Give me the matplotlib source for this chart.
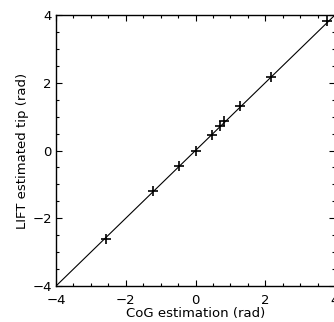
import matplotlib
matplotlib.use('Agg')
import matplotlib.pyplot as plt
import numpy as np

# CoG vs LIFT tip estimates (rad)
cog_est = [-2.56, -1.21, -0.46, 0.0, 0.47, 0.70, 0.81, 1.29, 2.16, 3.76]
lift_est = [-2.62, -1.21, -0.46, 0.0, 0.47, 0.71, 0.87, 1.32, 2.18, 3.81]
fit_x = [-4.0, 4.0]
fit_y = [-4.0, 4.0]

plt.rcParams['font.family'] = ['DejaVu Sans']
plt.rcParams['font.size'] = 9.5

fig = plt.figure(figsize=(3.34, 3.22), dpi=100)
ax = fig.add_axes([56/334., 36/322., 279/334., 271/322.])

ax.plot(fit_x, fit_y, color='k', lw=0.8)
ax.plot(cog_est, lift_est, ls='None', marker='+', color='k', ms=6.5, mew=1.2)

ax.set_xlim(-4, 4)
ax.set_ylim(-4, 4)
ax.set_xticks([-4, -2, 0, 2, 4])
ax.set_yticks([-4, -2, 0, 2, 4])
ax.set_xticks(np.arange(-4, 4.01, 0.5), minor=True)
ax.set_yticks(np.arange(-4, 4.01, 0.5), minor=True)
ax.tick_params(which='both', direction='in', top=True, right=True, width=0.8)
ax.tick_params(axis='x', which='major', length=4, pad=6)
ax.tick_params(axis='y', which='major', length=4, pad=3)
ax.tick_params(which='minor', length=2)
for s in ax.spines.values():
    s.set_linewidth(1.0)

ax.set_xlabel('CoG estimation (rad)', labelpad=0)
ax.set_ylabel('LIFT estimated tip (rad)', labelpad=2)

fig.savefig('out.png', dpi=100)
